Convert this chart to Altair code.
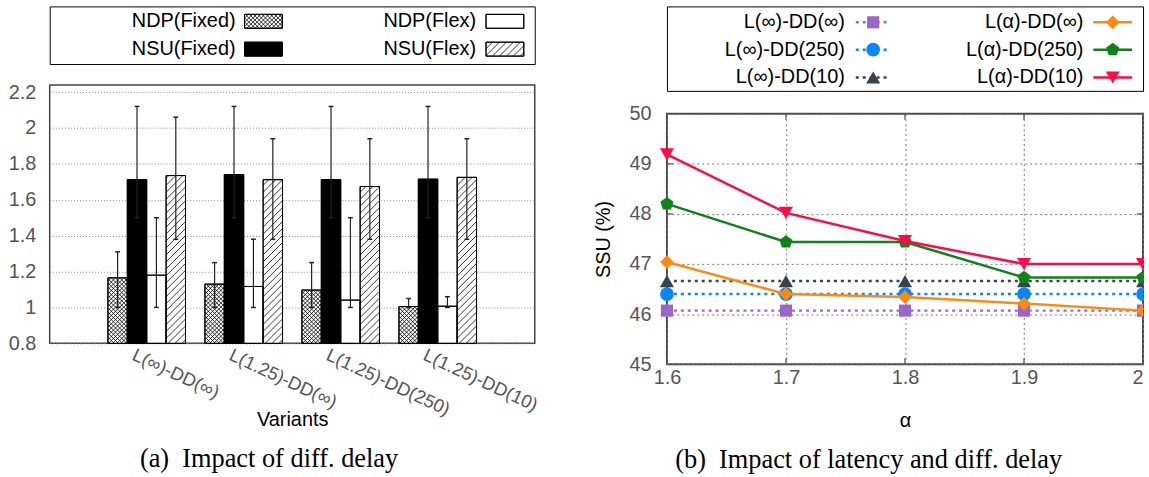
import json
import altair as alt
import pandas as pd

# ---------------- data: panel (a) ----------------
variants = ["L(∞)-DD(∞)", "L(1.25)-DD(∞)", "L(1.25)-DD(250)", "L(1.25)-DD(10)"]
bar_series = ["NDP(Fixed)", "NSU(Fixed)", "NDP(Flex)", "NSU(Flex)"]
ndp_fixed = [1.165, 1.130, 1.097, 1.005]
ndp_fixed_lo = [1.0, 1.0, 1.0, 1.0]
ndp_fixed_hi = [1.31, 1.25, 1.25, 1.05]
nsu_fixed = [1.713, 1.740, 1.713, 1.715]
nsu_fixed_lo = [1.5, 1.5, 1.5, 1.5]
nsu_fixed_hi = [2.12, 2.12, 2.12, 2.12]
ndp_flex = [1.180, 1.117, 1.041, 1.007]
ndp_flex_lo = [1.0, 1.0, 1.0, 1.0]
ndp_flex_hi = [1.50, 1.38, 1.50, 1.06]
nsu_flex = [1.735, 1.712, 1.674, 1.725]
nsu_flex_lo = [1.38, 1.38, 1.38, 1.38]
nsu_flex_hi = [2.06, 1.94, 1.94, 1.94]
y_ticks_a = [0.8, 1.0, 1.2, 1.4, 1.6, 1.8, 2.0, 2.2]

# ---------------- data: panel (b) ----------------
alpha = [1.6, 1.7, 1.8, 1.9, 2.0]
line_series = ["L(∞)-DD(∞)", "L(∞)-DD(250)", "L(∞)-DD(10)",
               "L(α)-DD(∞)", "L(α)-DD(250)", "L(α)-DD(10)"]
ssu_inf_inf = [46.07, 46.07, 46.07, 46.07, 46.07]
ssu_inf_250 = [46.40, 46.40, 46.40, 46.40, 46.40]
ssu_inf_10 = [46.66, 46.66, 46.66, 46.66, 46.66]
ssu_a_inf = [47.04, 46.40, 46.34, 46.21, 46.07]
ssu_a_250 = [48.20, 47.44, 47.44, 46.73, 46.73]
ssu_a_10 = [49.19, 48.02, 47.46, 47.00, 47.00]
y_ticks_b = [45, 46, 47, 48, 49, 50]

FONT = "Liberation Sans"
SERIF = "Liberation Serif"
FS = 20

# ---------- styles ----------
bar_fill = ["white", "black", "white", "white"]
hatch_kind = ["cross", None, None, "slash"]
line_colors = ["#9a67c9", "#0a86fb", "#39424b", "#ff8a10", "#11821a", "#ff0a47"]
line_dotted = [True, True, True, False, False, False]
PENTAGON = "M0,-1L0.951,-0.309L0.588,0.809L-0.588,0.809L-0.951,-0.309Z"
line_shapes = ["square", "circle", "triangle-up", "diamond", PENTAGON, "triangle-down"]
line_sizes = [150, 190, 200, 190, 190, 200]


def hatch(x0, x1, y0, y1, kx, ky, step, kind):
    """diagonal hatch segments clipped to a rectangle (data coords, y up)."""
    W = (x1 - x0) * kx
    H = (y1 - y0) * ky
    segs = []
    slopes = [1, -1] if kind == "cross" else [1]
    for s in slopes:
        if s > 0:
            c = -W + step / 2
            while c < H:
                xa, xb = max(0.0, -c), min(W, H - c)
                if xb > xa:
                    segs.append((xa, xa + c, xb, xb + c))
                c += step
        else:
            c = step / 2
            while c < W + H:
                xa, xb = max(0.0, c - H), min(W, c)
                if xb > xa:
                    segs.append((xa, c - xa, xb, c - xb))
                c += step
    return [dict(hx0=x0 + a / kx, hy0=y0 + b / ky, hx1=x0 + c2 / kx, hy1=y0 + d / ky)
            for a, b, c2, d in segs]


# ================= panel (a) =================
LW, LH = 488, 260
XDOM = [0, 5]
YDOM = [0.8, 2.24]
kx = LW / (XDOM[1] - XDOM[0])
ky = LH / (YDOM[1] - YDOM[0])
BW = 0.2

vals = [ndp_fixed, nsu_fixed, ndp_flex, nsu_flex]
los = [ndp_fixed_lo, nsu_fixed_lo, ndp_flex_lo, nsu_flex_lo]
his = [ndp_fixed_hi, nsu_fixed_hi, ndp_flex_hi, nsu_flex_hi]
rows, hrows = [], []
for si, name in enumerate(bar_series):
    for gi in range(len(variants)):
        x0 = gi + 1 + (si - 2) * BW
        rows.append(dict(series=name, x0=x0, x1=x0 + BW, xc=x0 + BW / 2,
                         cl=x0 + BW / 2 - 0.025, cr=x0 + BW / 2 + 0.025,
                         base=YDOM[0], v=vals[si][gi], lo=los[si][gi], hi=his[si][gi]))
        if hatch_kind[si]:
            step = 4.2 if hatch_kind[si] == "cross" else 7.0
            hrows += hatch(x0, x0 + BW, YDOM[0], vals[si][gi], kx, ky, step, hatch_kind[si])
bars = pd.DataFrame(rows)
hat = pd.DataFrame(hrows)

xs_a = alt.Scale(domain=XDOM, nice=False, zero=False)
ys_a = alt.Scale(domain=YDOM, nice=False, zero=False)
label_expr = json.dumps(variants) + "[datum.value - 1]"
xaxis_a = alt.Axis(values=[1, 2, 3, 4], labelExpr=label_expr, title="Variants",
                   labelAngle=25, labelAlign="left", labelBaseline="top",
                   labelPadding=2, labelOffset=-10, labelColor="#555", labelFontSize=18.5,
                   labelFont=FONT, titleFont=FONT, titleFontSize=FS, titleFontWeight="normal",
                   titleColor="black", titleY=77, titleBaseline="middle",
                   ticks=False, domain=False, grid=False,
                   labelOverlap=False, labelBound=False)
yaxis_a = alt.Axis(values=y_ticks_a, format="~g", title=None, grid=True, gridDash=[1, 2],
                   gridColor="#888", gridWidth=1, ticks=False, domain=False,
                   labelPadding=14, labelColor="#555", labelFontSize=FS, labelFont=FONT)

X_a = lambda f: alt.X(f, scale=xs_a, axis=xaxis_a)
Y_a = lambda f: alt.Y(f, scale=ys_a, axis=yaxis_a)

bar_layer = alt.Chart(bars).mark_rect(stroke="black", strokeWidth=1).encode(
    x=X_a("x0:Q"), x2="x1:Q", y=Y_a("base:Q"), y2="v:Q",
    fill=alt.Fill("series:N", scale=alt.Scale(domain=bar_series, range=bar_fill), legend=None))
hatch_layer = alt.Chart(hat).mark_rule(color="black", strokeWidth=0.8).encode(
    x=X_a("hx0:Q"), x2="hx1:Q", y=Y_a("hy0:Q"), y2="hy1:Q")
outline_layer = alt.Chart(bars).mark_rect(fillOpacity=0, stroke="black", strokeWidth=1).encode(
    x=X_a("x0:Q"), x2="x1:Q", y=Y_a("base:Q"), y2="v:Q")
err_layer = alt.Chart(bars).mark_rule(color="#222", strokeWidth=1.2).encode(
    x=X_a("xc:Q"), y=Y_a("lo:Q"), y2="hi:Q")
cap_lo = alt.Chart(bars).mark_rule(color="#222", strokeWidth=1.5).encode(
    x=X_a("cl:Q"), x2="cr:Q", y=Y_a("lo:Q"))
cap_hi = alt.Chart(bars).mark_rule(color="#222", strokeWidth=1.5).encode(
    x=X_a("cl:Q"), x2="cr:Q", y=Y_a("hi:Q"))

plot_a = alt.layer(bar_layer, hatch_layer, outline_layer, err_layer, cap_lo, cap_hi).properties(
    width=LW, height=LH, view=alt.ViewBackground(stroke="#444", strokeWidth=1.5))

# legend (a), pixel coordinates, y up
LGW, LGH = 488, 58
lg_rows, lg_hat = [], []
for i, name in enumerate(bar_series):
    col, row = i // 2, i % 2
    tx = [187, 429][col]
    sx0 = [196, 439][col]
    yc = [43, 15][row]
    lg_rows.append(dict(series=name, tx=tx, ty=yc, sx0=sx0, sx1=sx0 + 38, sy0=yc - 7, sy1=yc + 7))
    if hatch_kind[i]:
        step = 4.2 if hatch_kind[i] == "cross" else 7.0
        lg_hat += hatch(sx0, sx0 + 38, yc - 7, yc + 7, 1, 1, step, hatch_kind[i])
lg = pd.DataFrame(lg_rows)
lgh = pd.DataFrame(lg_hat)
pxs = alt.Scale(domain=[0, LGW], nice=False, zero=False)
pys = alt.Scale(domain=[0, LGH], nice=False, zero=False)
lg_text = alt.Chart(lg).mark_text(align="right", baseline="middle", fontSize=FS, font=FONT,
                                  color="black").encode(
    x=alt.X("tx:Q", scale=pxs, axis=None), y=alt.Y("ty:Q", scale=pys, axis=None), text="series:N")
lg_sw = alt.Chart(lg).mark_rect(stroke="black", strokeWidth=1).encode(
    x=alt.X("sx0:Q", scale=pxs, axis=None), x2="sx1:Q",
    y=alt.Y("sy0:Q", scale=pys, axis=None), y2="sy1:Q",
    fill=alt.Fill("series:N", scale=alt.Scale(domain=bar_series, range=bar_fill), legend=None))
lg_h = alt.Chart(lgh).mark_rule(color="black", strokeWidth=0.8).encode(
    x=alt.X("hx0:Q", scale=pxs, axis=None), x2="hx1:Q",
    y=alt.Y("hy0:Q", scale=pys, axis=None), y2="hy1:Q")
lg_ol = alt.Chart(lg).mark_rect(fillOpacity=0, stroke="black", strokeWidth=1).encode(
    x=alt.X("sx0:Q", scale=pxs, axis=None), x2="sx1:Q",
    y=alt.Y("sy0:Q", scale=pys, axis=None), y2="sy1:Q")
legend_a = alt.layer(lg_text, lg_sw, lg_h, lg_ol).properties(
    width=LGW, height=LGH, view=alt.ViewBackground(stroke="black", strokeWidth=1))

col_a = alt.vconcat(legend_a, plot_a, spacing=21, bounds="flush").properties(
    title=alt.TitleParams(text="(a)\u2002Impact of diff. delay", orient="bottom", anchor="middle",
                          font=SERIF, fontSize=26.5, fontWeight="normal", color="black",
                          dx=-5, offset=16))

# ================= panel (b) =================
RW, RH = 479, 252
XB = [1.6, 2.0]
YB = [45, 50]
series_vals = [ssu_inf_inf, ssu_inf_250, ssu_inf_10, ssu_a_inf, ssu_a_250, ssu_a_10]
xs_b = alt.Scale(domain=XB, nice=False, zero=False)
ys_b = alt.Scale(domain=YB, nice=False, zero=False)
xaxis_b = alt.Axis(values=alpha, format="~g", title="α", grid=True, gridDash=[2, 3],
                   gridColor="#777", gridWidth=1, ticks=False, domain=False,
                   labelPadding=3, labelColor="#555", labelFontSize=FS, labelFont=FONT,
                   labelAlign={"condition": {"test": "datum.value >= 2", "value": "right"},
                               "value": "center"},
                   titleFont=FONT, titleFontSize=FS, titleFontWeight="normal", titleColor="black",
                   titleY=57, titleBaseline="middle", labelBound=False, labelOverlap=False)
yaxis_b = alt.Axis(values=y_ticks_b, format="d", title="SSU (%)", grid=True, gridDash=[2, 3],
                   gridColor="#777", gridWidth=1, ticks=False, domain=False,
                   labelPadding=16, labelColor="#555", labelFontSize=FS, labelFont=FONT,
                   titleFont=FONT, titleFontSize=FS, titleFontWeight="normal", titleColor="black",
                   titleX=-64, titleY=RH / 2, titleBaseline="middle")
Xb = alt.X("a:Q", scale=xs_b, axis=xaxis_b)
Yb = alt.Y("v:Q", scale=ys_b, axis=yaxis_b)

# inward tick marks on all four frame sides (gnuplot style), from the tick lists
TL = 6  # px
dy_t = TL * (YB[1] - YB[0]) / RH
dx_t = TL * (XB[1] - XB[0]) / RW
tick_rows = []
for a in alpha[1:-1]:
    tick_rows.append(dict(a=a, a2=a, v=YB[0], v2=YB[0] + dy_t))
    tick_rows.append(dict(a=a, a2=a, v=YB[1], v2=YB[1] - dy_t))
for v in y_ticks_b[1:-1]:
    tick_rows.append(dict(a=XB[0], a2=XB[0] + dx_t, v=v, v2=v))
    tick_rows.append(dict(a=XB[1], a2=XB[1] - dx_t, v=v, v2=v))
ticks_layer = alt.Chart(pd.DataFrame(tick_rows)).mark_rule(color="#4a4a4a", strokeWidth=1.2).encode(
    x=Xb, x2="a2:Q", y=Yb, y2="v2:Q")

layers_b = [ticks_layer]
for i, name in enumerate(line_series):
    d = pd.DataFrame({"a": alpha, "v": series_vals[i], "series": name})
    lk = dict(color=line_colors[i], strokeWidth=2.5)
    if line_dotted[i]:
        lk["strokeDash"] = [3, 4]
    layers_b.append(alt.Chart(d).mark_line(**lk).encode(x=Xb, y=Yb))
    pk = dict(shape=line_shapes[i], filled=True, opacity=1, size=line_sizes[i],
              color=line_colors[i])
    base = alt.Chart(d)
    # markers on the right frame edge are cut by the edge, as in the original
    layers_b.append(base.transform_filter("datum.a < 1.99").mark_point(**pk).encode(x=Xb, y=Yb))
    layers_b.append(base.transform_filter("datum.a >= 1.99").mark_point(clip=True, **pk)
                    .encode(x=Xb, y=Yb))
plot_b = alt.layer(*layers_b).properties(
    width=RW, height=RH, view=alt.ViewBackground(stroke="#4a4a4a", strokeWidth=2))

# legend (b), pixel coords, y up
RGW, RGH = 479, 85
rg_layers = []
pxs2 = alt.Scale(domain=[0, RGW], nice=False, zero=False)
pys2 = alt.Scale(domain=[0, RGH], nice=False, zero=False)
for i, name in enumerate(line_series):
    col, row = i // 3, i % 3
    tx = [179, 419][col]
    lx0 = [190, 429][col]
    lx1 = [225, 468][col]
    yc = [69, 41.5, 13.5][row]
    d = pd.DataFrame([dict(series=name, tx=tx, lx0=lx0, lx1=lx1, mx=(lx0 + lx1) / 2, y=yc)])
    rk = dict(color=line_colors[i], strokeWidth=2.5)
    if line_dotted[i]:
        rk["strokeDash"] = [3, 4]
    rg_layers.append(alt.Chart(d).mark_text(align="right", baseline="middle", fontSize=FS,
                                            font=FONT, color="black").encode(
        x=alt.X("tx:Q", scale=pxs2, axis=None), y=alt.Y("y:Q", scale=pys2, axis=None),
        text="series:N"))
    rg_layers.append(alt.Chart(d).mark_rule(**rk).encode(
        x=alt.X("lx0:Q", scale=pxs2, axis=None), x2="lx1:Q",
        y=alt.Y("y:Q", scale=pys2, axis=None)))
    rg_layers.append(alt.Chart(d).mark_point(shape=line_shapes[i], filled=True, opacity=1,
                                             size=line_sizes[i], color=line_colors[i]).encode(
        x=alt.X("mx:Q", scale=pxs2, axis=None), y=alt.Y("y:Q", scale=pys2, axis=None)))
legend_b = alt.layer(*rg_layers).properties(
    width=RGW, height=RGH, view=alt.ViewBackground(stroke="black", strokeWidth=1))

col_b = alt.vconcat(legend_b, plot_b, spacing=23, bounds="flush").properties(
    title=alt.TitleParams(text="(b)\u2002Impact of latency and diff. delay", orient="bottom",
                          anchor="middle", font=SERIF, fontSize=26.5, fontWeight="normal",
                          color="black", dx=-2, offset=15))

chart = alt.hconcat(col_a, col_b, spacing=52).properties(
    padding={"left": 7, "top": 4, "right": 0, "bottom": 0}
).configure(font=FONT).configure_view(strokeWidth=0)

chart.save("out.html", embed_options={"renderer": "svg", "actions": False})
